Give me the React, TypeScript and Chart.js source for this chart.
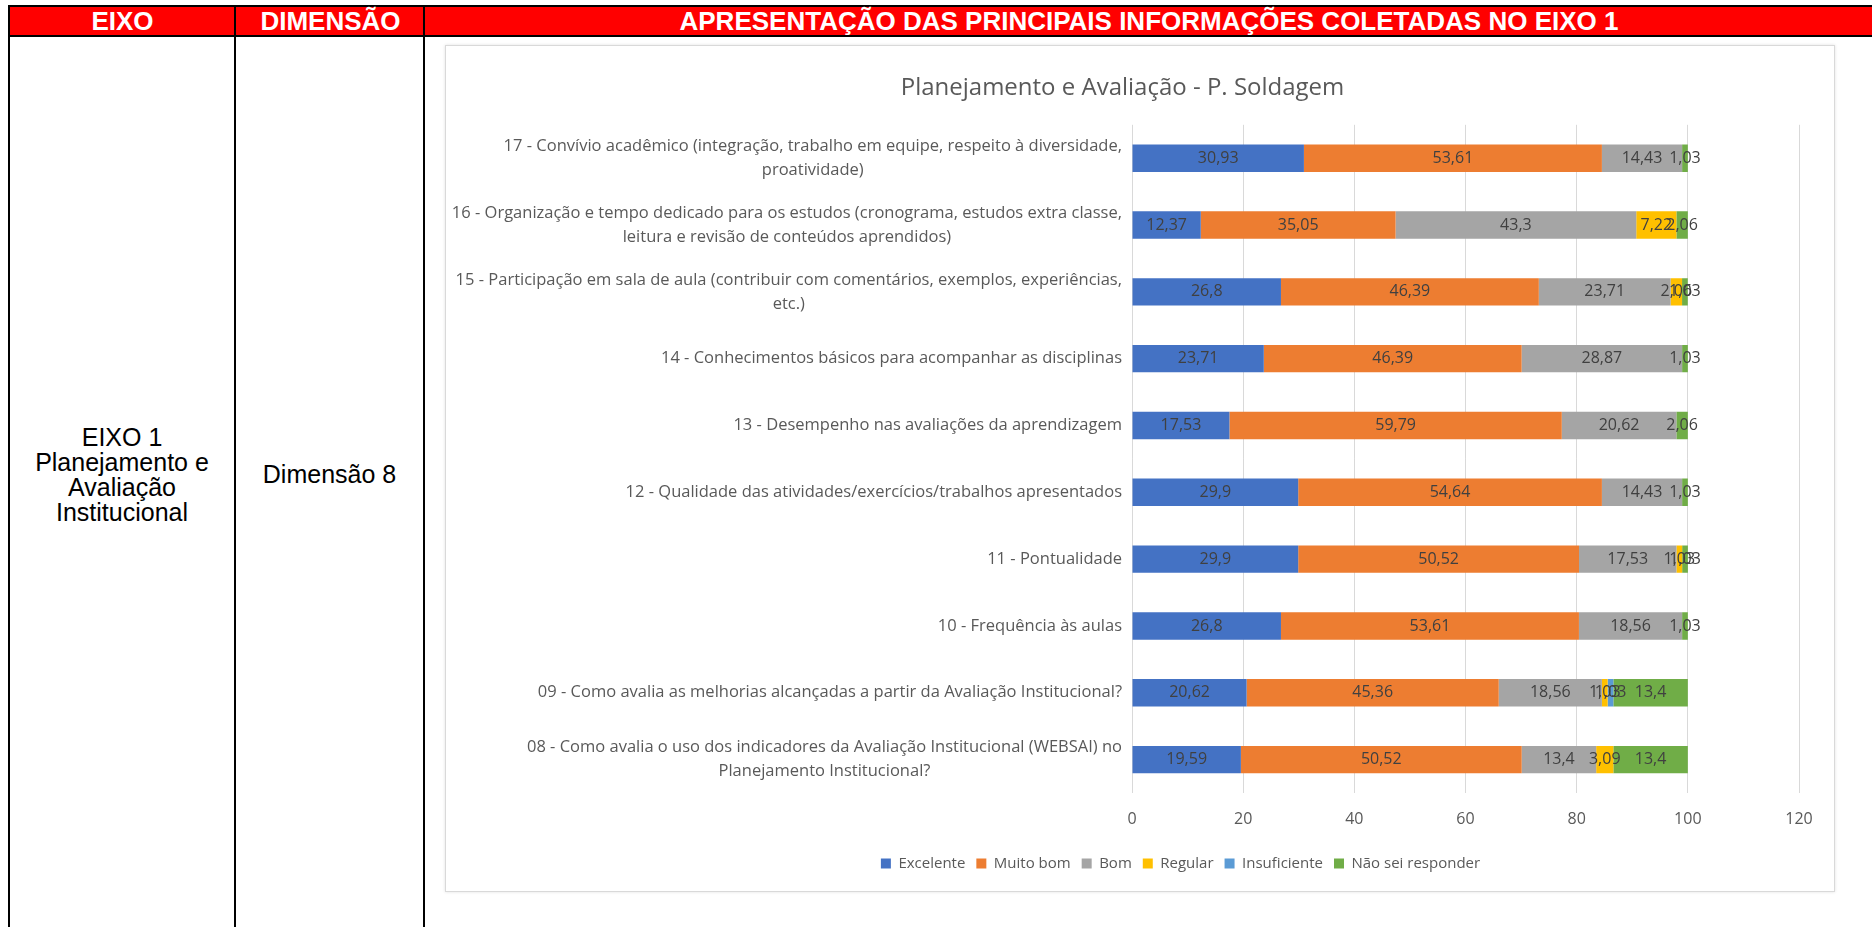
import React, { useEffect, useRef } from "react";
import { Chart, registerables } from "chart.js";

Chart.register(...registerables);

const categories: string[][] = [
  ["17 - Convívio acadêmico (integração, trabalho em equipe, respeito à diversidade,", "proatividade)"],
  ["16 - Organização e tempo dedicado para os estudos (cronograma, estudos extra classe,", "leitura e revisão de conteúdos aprendidos)"],
  ["15 - Participação em sala de aula (contribuir com comentários, exemplos, experiências,", "etc.)"],
  ["14 - Conhecimentos básicos para acompanhar as disciplinas"],
  ["13 - Desempenho nas avaliações da aprendizagem"],
  ["12 - Qualidade das atividades/exercícios/trabalhos apresentados"],
  ["11 - Pontualidade"],
  ["10 - Frequência às aulas"],
  ["09 - Como avalia as melhorias alcançadas a partir da Avaliação Institucional?"],
  ["08 - Como avalia o uso dos indicadores da Avaliação Institucional (WEBSAI) no", "Planejamento Institucional?"],
];

const seriesNames = ["Excelente", "Muito bom", "Bom", "Regular", "Insuficiente", "Não sei responder"];
const seriesColors = ["#4472C4", "#ED7D31", "#A5A5A5", "#FFC000", "#5B9BD5", "#70AD47"];

const excelente = [30.93, 12.37, 26.8, 23.71, 17.53, 29.9, 29.9, 26.8, 20.62, 19.59];
const muitoBom = [53.61, 35.05, 46.39, 46.39, 59.79, 54.64, 50.52, 53.61, 45.36, 50.52];
const bom = [14.43, 43.3, 23.71, 28.87, 20.62, 14.43, 17.53, 18.56, 18.56, 13.4];
const regular = [null, 7.22, 2.06, null, null, null, 1.03, null, 1.03, 3.09];
const insuficiente = [null, null, null, null, null, null, null, null, 1.03, null];
const naoSei = [1.03, 2.06, 1.03, 1.03, 2.06, 1.03, 1.03, 1.03, 13.4, 13.4];

const xMin = 0;
const xMax = 120;
const xStep = 20;

const chartTitle = "Planejamento e Avaliação - P. Soldagem";
const headerEixo = "EIXO";
const headerDimensao = "DIMENSÃO";
const headerApresentacao = "APRESENTAÇÃO DAS PRINCIPAIS INFORMAÇÕES COLETADAS NO EIXO 1";
const eixoLines = ["EIXO 1", "Planejamento e", "Avaliação", "Institucional"];
const dimensaoText = "Dimensão 8";

const FONT = "'Open Sans', 'Noto Sans', sans-serif";
const TEXT_GRAY = "#595959";

const fmt = (v: number) => String(v).replace(".", ",");

const dataLabelPlugin = {
  id: "dataLabels",
  afterDatasetsDraw(chart: any) {
    const ctx = chart.ctx;
    ctx.save();
    ctx.font = `16px ${FONT}`;
    ctx.fillStyle = "#404040";
    ctx.textAlign = "center";
    ctx.textBaseline = "middle";
    chart.data.datasets.forEach((ds: any, i: number) => {
      const meta = chart.getDatasetMeta(i);
      if (meta.hidden) return;
      meta.data.forEach((el: any, j: number) => {
        const v = ds.data[j];
        if (v === null || v === undefined) return;
        const cx = (el.x + el.base) / 2;
        ctx.fillText(fmt(v), cx, el.y);
      });
    });
    ctx.restore();
  },
};

const yLabelPlugin = {
  id: "yLabels",
  afterDraw(chart: any) {
    const scale = chart.scales.y;
    const ctx = chart.ctx;
    ctx.save();
    ctx.font = `16.5px ${FONT}`;
    ctx.fillStyle = TEXT_GRAY;
    ctx.textAlign = "center";
    ctx.textBaseline = "middle";
    const lh = 24;
    const right = scale.right - 10;
    categories.forEach((lines, i) => {
      const y = scale.getPixelForTick(i);
      const widths = lines.map((l) => ctx.measureText(l).width);
      const maxW = Math.max(...widths);
      const cx = right - maxW / 2;
      const y0 = y - ((lines.length - 1) * lh) / 2;
      lines.forEach((l, k) => ctx.fillText(l, cx, y0 + k * lh));
    });
    ctx.restore();
  },
};

const legendShiftPlugin = {
  id: "legendShift",
  afterLayout(chart: any) {
    const lg = chart.legend;
    if (!lg) return;
    lg.left += 58;
    lg.right += 58;
  },
};

function BarChart() {
  const ref = useRef<HTMLCanvasElement>(null);
  useEffect(() => {
    if (!ref.current) return;
    const seriesData = [excelente, muitoBom, bom, regular, insuficiente, naoSei];
    const chart = new Chart(ref.current, {
      type: "bar",
      data: {
        labels: categories.map((c) => c.join(" ")),
        datasets: seriesNames.map((name, i) => ({
          label: name,
          data: seriesData[i] as any,
          backgroundColor: seriesColors[i],
          borderWidth: 0,
          categoryPercentage: 0.41,
          barPercentage: 1,
        })),
      },
      options: {
        indexAxis: "y",
        animation: false,
        responsive: false,
        maintainAspectRatio: false,
        layout: { padding: { left: 0, right: 35, top: 0, bottom: 10 } },
        plugins: {
          title: {
            display: true,
            text: chartTitle,
            color: TEXT_GRAY,
            font: { family: FONT, size: 24, weight: "normal" },
            padding: { top: 28, bottom: 22 },
          },
          legend: {
            position: "bottom",
            labels: {
              boxWidth: 10,
              boxHeight: 10,
              padding: 11,
              color: TEXT_GRAY,
              font: { family: FONT, size: 15 },
            },
          },
          tooltip: { enabled: false },
        },
        scales: {
          x: {
            stacked: true,
            min: xMin,
            max: xMax,
            ticks: { stepSize: xStep, color: TEXT_GRAY, font: { family: FONT, size: 16 }, padding: 17 },
            grid: { color: "#D9D9D9", drawTicks: false },
            border: { display: false },
            afterFit: (s: any) => {
              s.height = 52;
            },
          },
          y: {
            stacked: true,
            ticks: { display: false },
            grid: { display: false },
            border: { display: false },
            afterFit: (s: any) => {
              s.width = 686;
            },
          },
        },
      } as any,
      plugins: [dataLabelPlugin, yLabelPlugin, legendShiftPlugin],
    });
    return () => chart.destroy();
  }, []);
  return <canvas ref={ref} width={1388} height={845} style={{ display: "block", width: 1388, height: 845 }} />;
}

const line = (x: number): React.CSSProperties => ({
  position: "absolute",
  left: x,
  top: 5,
  width: 2,
  height: 922,
  background: "#000",
});

export default function App() {
  const arial = "Arial, 'Liberation Sans', sans-serif";
  const headerCell = (left: number, width: number, text: string): React.ReactNode => (
    <div
      style={{
        position: "absolute",
        left,
        top: 7,
        width,
        height: 29,
        display: "flex",
        alignItems: "center",
        justifyContent: "center",
        color: "#fff",
        fontFamily: arial,
        fontWeight: "bold",
        fontSize: 26,
        whiteSpace: "nowrap",
      }}
    >
      {text}
    </div>
  );
  return (
    <div style={{ position: "absolute", left: 0, top: 0, width: 1872, height: 927, background: "#fff", overflow: "hidden" }}>
      <div style={{ position: "absolute", left: 8, top: 5, width: 1864, height: 32, background: "#FF0000", borderTop: "2px solid #000", borderBottom: "2px solid #000", boxSizing: "border-box" }} />
      {headerCell(10, 225, headerEixo)}
      {headerCell(237, 187, headerDimensao)}
      {headerCell(426, 1446, headerApresentacao)}
      <div style={line(8)} />
      <div style={line(234)} />
      <div style={line(423)} />
      <div
        style={{
          position: "absolute",
          left: 10,
          top: 0,
          width: 224,
          height: 950,
          display: "flex",
          flexDirection: "column",
          justifyContent: "center",
          alignItems: "center",
          fontFamily: arial,
          fontSize: 25,
          lineHeight: "25px",
          color: "#000",
        }}
      >
        {eixoLines.map((l) => (
          <div key={l}>{l}</div>
        ))}
      </div>
      <div
        style={{
          position: "absolute",
          left: 236,
          top: 0,
          width: 187,
          height: 948,
          display: "flex",
          justifyContent: "center",
          alignItems: "center",
          fontFamily: arial,
          fontSize: 25,
          color: "#000",
        }}
      >
        {dimensaoText}
      </div>
      <div
        style={{
          position: "absolute",
          left: 445,
          top: 45,
          width: 1390,
          height: 847,
          border: "1px solid #D9D9D9",
          boxShadow: "0 0 3px rgba(0,0,0,0.12)",
          boxSizing: "border-box",
          background: "#fff",
        }}
      >
        <BarChart />
      </div>
    </div>
  );
}
